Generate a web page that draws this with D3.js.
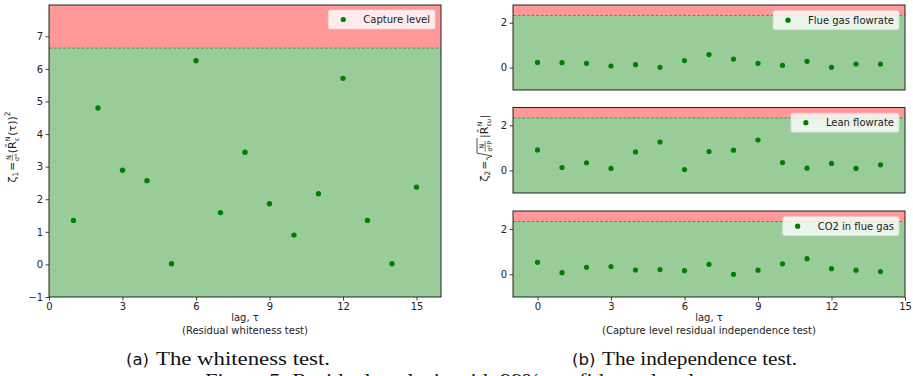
<!DOCTYPE html>
<html>
<head>
<meta charset="utf-8">
<script src="https://cdn.jsdelivr.net/npm/d3@7"></script>
<style>
  html, body { margin: 0; padding: 0; background: #fff; }
  svg { display: block; font-family: "DejaVu Sans", sans-serif; fill: #222; }
</style>
</head>
<body>
<svg id="fig" width="913" height="376"></svg>
<script>
// ---- data ----
const whitenessLags = [1, 2, 3, 4, 5, 6, 7, 8, 9, 10, 11, 12, 13, 14, 15];
const whitenessValues = [1.35, 4.80, 2.89, 2.57, 0.02, 6.25, 1.59, 3.44, 1.86, 0.90, 2.17, 5.71, 1.35, 0.02, 2.37];
const whitenessLimit = 6.635;

const independenceLags = [0, 1, 2, 3, 4, 5, 6, 7, 8, 9, 10, 11, 12, 13, 14];
const flueGasFlowrate = [0.23, 0.22, 0.19, 0.07, 0.13, 0.01, 0.31, 0.58, 0.38, 0.19, 0.10, 0.28, 0.01, 0.16, 0.16];
const leanFlowrate = [0.91, 0.13, 0.34, 0.09, 0.82, 1.26, 0.04, 0.84, 0.90, 1.35, 0.35, 0.10, 0.31, 0.09, 0.25];
const co2InFlueGas = [0.53, 0.07, 0.31, 0.34, 0.19, 0.21, 0.16, 0.44, 0.00, 0.18, 0.46, 0.69, 0.25, 0.18, 0.12];
const independenceLimit = 2.326;

const lagTicks = [0, 3, 6, 9, 12, 15];
const whitenessYTicks = [-1, 0, 1, 2, 3, 4, 5, 6, 7];
const independenceYTicks = [0, 2];

const independenceSeries = [
  { name: "Flue gas flowrate", values: flueGasFlowrate },
  { name: "Lean flowrate", values: leanFlowrate },
  { name: "CO2 in flue gas", values: co2InFlueGas }
];

// ---- styling ----
const RED_ZONE = "rgb(255,153,153)";
const GREEN_ZONE = "rgb(153,204,153)";
const DOT = "#008000";
const FS = 10;
const SERIF = "'Liberation Serif', 'DejaVu Serif', serif";

const svg = d3.select("#fig");
const intFmt = d => (d < 0 ? "\u2212" + Math.abs(d) : String(d));

function zones(g, x, y, limit) {
  const [xa, xb] = x.range();
  const [yb, ya] = y.range();
  g.append("rect").attr("x", xa).attr("y", ya).attr("width", xb - xa)
    .attr("height", y(limit) - ya).attr("fill", RED_ZONE);
  g.append("rect").attr("x", xa).attr("y", y(limit)).attr("width", xb - xa)
    .attr("height", yb - y(limit)).attr("fill", GREEN_ZONE);
  g.append("line").attr("x1", xa).attr("x2", xb)
    .attr("y1", y(limit)).attr("y2", y(limit))
    .attr("stroke", "#3f9a3f").attr("stroke-width", 1)
    .attr("stroke-dasharray", "3,1.6");
}

function frame(g, x, y) {
  const [xa, xb] = x.range();
  const [yb, ya] = y.range();
  g.append("rect").attr("x", xa).attr("y", ya).attr("width", xb - xa)
    .attr("height", yb - ya).attr("fill", "none")
    .attr("stroke", "#111").attr("stroke-width", 0.9);
}

function styleAxis(sel) {
  sel.select(".domain").remove();
  sel.selectAll(".tick line").attr("stroke", "#111").attr("stroke-width", 0.8);
  sel.selectAll(".tick text").attr("font-size", FS)
    .attr("font-family", "DejaVu Sans").attr("fill", "#222");
}

function legend(g, label, right, top) {
  const lg = g.append("g");
  const box = lg.append("rect");
  const t = lg.append("text").attr("font-size", FS).attr("fill", "#222").text(label);
  const w = t.node().getComputedTextLength();
  const bw = 35 + w + 5, bh = 19;
  const left = right - bw;
  box.attr("x", left).attr("y", top).attr("width", bw).attr("height", bh)
    .attr("rx", 2).attr("fill", "rgba(255,255,255,0.8)")
    .attr("stroke", "#d8d8d8").attr("stroke-width", 0.8);
  lg.append("circle").attr("cx", left + 15).attr("cy", top + bh / 2)
    .attr("r", 2.6).attr("fill", DOT);
  t.attr("x", left + 35).attr("y", top + bh / 2 + 3.6);
}

// ---- (a) whiteness test ----
const xW = d3.scaleLinear().domain([0, 16]).range([49, 441]);
const yW = d3.scaleLinear().domain([-1, 7.96]).range([297, 5]);
const gW = svg.append("g");
zones(gW, xW, yW, whitenessLimit);
gW.selectAll("circle.pt").data(whitenessLags).join("circle")
  .attr("class", "pt")
  .attr("cx", d => xW(d)).attr("cy", (d, i) => yW(whitenessValues[i]))
  .attr("r", 2.7).attr("fill", DOT);
legend(gW, "Capture level", 435, 10);
frame(gW, xW, yW);
gW.append("g").attr("transform", "translate(0,297)")
  .call(d3.axisBottom(xW).tickValues(lagTicks).tickSize(3.5).tickPadding(2.5).tickFormat(intFmt))
  .call(styleAxis);
gW.append("g").attr("transform", "translate(49,0)")
  .call(d3.axisLeft(yW).tickValues(whitenessYTicks).tickSize(3.5).tickPadding(2.5).tickFormat(intFmt))
  .call(styleAxis);
gW.append("text").attr("x", 245).attr("y", 320.5).attr("text-anchor", "middle")
  .attr("font-size", FS).attr("fill", "#222").text("lag, \u03c4");
gW.append("text").attr("x", 245).attr("y", 334).attr("text-anchor", "middle")
  .attr("font-size", FS).attr("fill", "#222").text("(Residual whiteness test)");

// ---- (b) independence test ----
const xI = d3.scaleLinear().domain([-1, 15]).range([513, 905]);
const panelBands = [[5, 90], [107.5, 193], [211, 297]];
independenceSeries.forEach((s, k) => {
  const [top, bottom] = panelBands[k];
  const y = d3.scaleLinear().domain([-1, 2.79]).range([bottom, top]);
  const g = svg.append("g");
  zones(g, xI, y, independenceLimit);
  g.selectAll("circle.pt").data(independenceLags).join("circle")
    .attr("class", "pt")
    .attr("cx", d => xI(d)).attr("cy", (d, i) => y(s.values[i]))
    .attr("r", 2.6).attr("fill", DOT);
  legend(g, s.name, 899, top + 5.7);
  frame(g, xI, y);
  g.append("g").attr("transform", "translate(513,0)")
    .call(d3.axisLeft(y).tickValues(independenceYTicks).tickSize(3.5).tickPadding(2.5).tickFormat(intFmt))
    .call(styleAxis);
  if (k === independenceSeries.length - 1) {
    g.append("g").attr("transform", `translate(0,${bottom})`)
      .call(d3.axisBottom(xI).tickValues(lagTicks).tickSize(3.5).tickPadding(2.5).tickFormat(intFmt))
      .call(styleAxis);
  }
});
svg.append("text").attr("x", 709).attr("y", 320.5).attr("text-anchor", "middle")
  .attr("font-size", FS).attr("fill", "#222").text("lag, \u03c4");
svg.append("text").attr("x", 709).attr("y", 334).attr("text-anchor", "middle")
  .attr("font-size", FS).attr("fill", "#222").text("(Capture level residual independence test)");

// ---- rotated math labels ----
// Lays out a sequence of text pieces along a baseline, measuring each one.
function mathLabel(cx, cy, pieces) {
  const g = svg.append("g");
  const inner = g.append("g");
  let x = 0;
  const addText = (q, xx) => inner.append("text").attr("font-size", q.size || FS)
    .attr("fill", "#222").attr("x", xx).attr("y", q.dy || 0).text(q.t);
  pieces.forEach(p => {
    if (p.stack) {
      let w = 0;
      const made = p.stack.map(q => {
        const t = addText(q, x);
        w = Math.max(w, t.node().getComputedTextLength());
        return t;
      });
      made.forEach(t => {
        const tw = t.node().getComputedTextLength();
        t.attr("x", p.align === "left" ? x : x + (w - tw) / 2);
      });
      if (p.bar !== undefined) {
        inner.append("line").attr("x1", x).attr("x2", x + w)
          .attr("y1", p.bar).attr("y2", p.bar)
          .attr("stroke", "#222").attr("stroke-width", 0.6);
      }
      x += w + (p.gap || 0.5);
    } else if (p.sqrt) {
      // radical sign spanning the following width
      const w = p.sqrt;
      inner.append("path")
        .attr("d", `M${x},0 L${x + 1.8},-1.2 L${x + 4},${p.bottom} L${x + 7},${p.top} L${x + 8 + w},${p.top}`)
        .attr("fill", "none").attr("stroke", "#222").attr("stroke-width", 0.8);
      x += 8.5;
    } else {
      const t = addText(p, x);
      x += t.node().getComputedTextLength() + (p.gap || 0);
    }
  });
  inner.attr("transform", `translate(${-x / 2},3.5)`);
  g.attr("transform", `translate(${cx},${cy}) rotate(-90)`);
}

mathLabel(12, 147, [
  { t: "\u03b6", size: 11 },
  { t: "1", size: 7.5, dy: 2.5, gap: 0.8 },
  { t: "=", size: 11, gap: 0.8 },
  { stack: [{ t: "N", size: 6.5, dy: -5 }, { t: "\u03c3\u2074", size: 6.5, dy: 3.5 }], bar: -3.2, gap: 1 },
  { t: "(R\u0302", size: 11 },
  { stack: [{ t: "N", size: 6.5, dy: -6 }, { t: "\u03b5", size: 6.5, dy: 3 }], align: "left", gap: 0.6 },
  { t: "(\u03c4))", size: 11 },
  { t: "2", size: 7.5, dy: -6 }
]);

mathLabel(484, 148, [
  { t: "\u03b6", size: 11 },
  { t: "2", size: 7.5, dy: 2.5, gap: 0.8 },
  { t: "=", size: 11, gap: 0.5 },
  { sqrt: 14, top: -10.5, bottom: 4.5 },
  { stack: [{ t: "N", size: 6.5, dy: -4 }, { t: "\u03c3\u00b2P", size: 6.5, dy: 4 }], bar: -2.4, gap: 3 },
  { t: "|R\u0302", size: 11 },
  { stack: [{ t: "N", size: 6.5, dy: -6 }, { t: "\u03b5u", size: 6.5, dy: 3 }], align: "left", gap: 0.6 },
  { t: "|", size: 11 }
]);

// ---- sub-figure captions ----
function caption(tag, body, x0, xBody, bodyLen) {
  svg.append("text").attr("x", x0).attr("y", 365).attr("font-size", 16.5)
    .attr("font-family", "DejaVu Sans").attr("fill", "#111").text(tag);
  svg.append("text").attr("x", xBody).attr("y", 365).attr("font-size", 18)
    .attr("font-family", SERIF).attr("fill", "#111")
    .attr("textLength", bodyLen).attr("lengthAdjust", "spacingAndGlyphs").text(body);
}
caption("(a)", "The whiteness test.", 126, 156, 174);
caption("(b)", "The independence test.", 572, 602, 195);

// figure caption running off the bottom edge of the page
svg.append("text").attr("x", 205).attr("y", 386.5).attr("font-size", 18)
  .attr("font-family", SERIF).attr("fill", "#111")
  .attr("textLength", 495).attr("lengthAdjust", "spacingAndGlyphs")
  .text("Figure 5: Residual analysis with 99% confidence level.");
</script>
</body>
</html>
